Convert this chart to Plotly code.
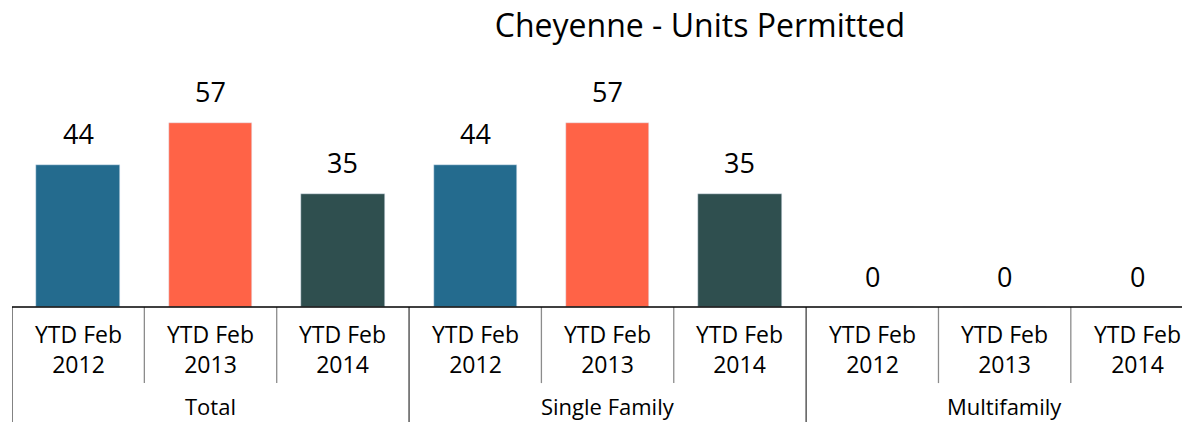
import plotly.graph_objects as go

# chart data
groups = ["Total", "Single Family", "Multifamily"]
periods = ["YTD Feb<br>2012", "YTD Feb<br>2013", "YTD Feb<br>2014"]
units_2012 = [44, 44, 0]
units_2013 = [57, 57, 0]
units_2014 = [35, 35, 0]

series = [units_2012, units_2013, units_2014]
colors = ["#246B8E", "#FF6347", "#2F4F4F"]
FONT = "Open Sans"

fig = go.Figure()
for j, vals in enumerate(series):
    xs = [g * len(periods) + j for g in range(len(groups))]
    fig.add_trace(go.Bar(x=xs, y=vals, width=0.63, marker_color=colors[j],
                         showlegend=False, hoverinfo="y"))
    for x, v in zip(xs, vals):
        fig.add_annotation(x=x, y=v, text=str(v), showarrow=False, yanchor="middle",
                           yshift=31, font=dict(size=27, color="#000", family=FONT))

n = len(groups) * len(periods)
# category labels under the axis
for g, grp in enumerate(groups):
    for j, p in enumerate(periods):
        fig.add_annotation(x=g * 3 + j, y=-0.17, xref="x", yref="paper", text=p,
                           showarrow=False, yanchor="middle",
                           font=dict(size=23, color="#000", family=FONT))
    fig.add_annotation(x=g * 3 + 1, y=-0.402, xref="x", yref="paper", text=grp,
                       showarrow=False, yanchor="middle",
                       font=dict(size=22, color="#000", family=FONT))

# separators
for k in range(n + 1):
    xpos = k - 0.5
    if k % 3 == 0:
        fig.add_shape(type="line", x0=xpos, x1=xpos, y0=0, y1=-0.47, xref="x", yref="paper",
                      line=dict(color="#404040", width=1.3))
    else:
        fig.add_shape(type="line", x0=xpos, x1=xpos, y0=0, y1=-0.308, xref="x", yref="paper",
                      line=dict(color="#8c8c8c", width=1.3))
fig.add_shape(type="line", x0=-0.5, x1=n - 0.5, y0=0, y1=0, xref="x", yref="paper",
              line=dict(color="#000", width=1.6))

fig.update_layout(
    width=1182, height=422,
    margin=dict(l=12, r=0, t=60, b=115),
    paper_bgcolor="white", plot_bgcolor="white",
    title=dict(text="Cheyenne - Units Permitted", x=0.588, xref="paper", xanchor="center",
               y=0.94, yanchor="middle", font=dict(size=32, color="#000", family=FONT)),
    xaxis=dict(range=[-0.5, 8.34], showticklabels=False, showgrid=False, zeroline=False,
               showline=False, ticks=""),
    yaxis=dict(range=[0, 76.5], visible=False, showgrid=False, zeroline=False),
    bargap=0,
)

# page body has a default margin; drop it so the figure fills the window
fig.write_html("out.html", config={"displayModeBar": False},
               post_script="document.body.style.margin='0';")
